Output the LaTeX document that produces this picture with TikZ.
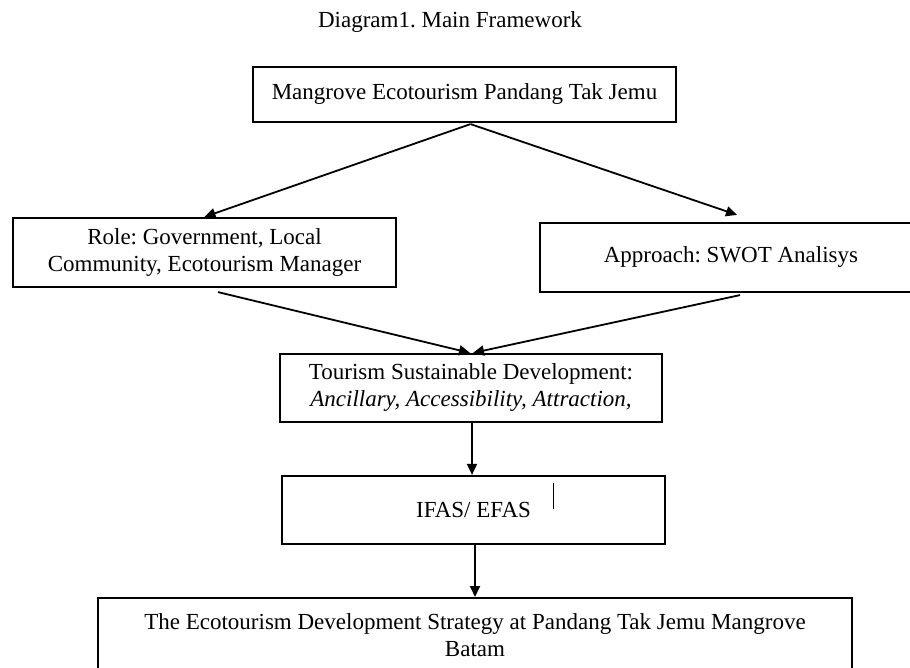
\documentclass[tikz,border=0pt]{standalone}
\usepackage{fontspec}
\setmainfont{Liberation Serif}
\usetikzlibrary{arrows.meta}
\frenchspacing
\begin{document}
\begin{tikzpicture}[x=1pt,y=-1pt,
 txt/.style={font=\fontsize{23}{27}\selectfont},
 box/.style={draw, line width=2.2pt, inner sep=0pt, align=center, txt},
 arr/.style={line width=1.8pt, -{Triangle[length=11pt,width=10pt]}},
]
\useasboundingbox (0,0) rectangle (910,668);
\clip (0,0) rectangle (910,668);
\node[txt] (title) at (450,22) {Diagram1. Main Framework};
\node[box, minimum width=423, minimum height=55] (top) at (464.5,94.5) {Mangrove Ecotourism Pandang Tak Jemu};
\node[box, minimum width=383, minimum height=69] (role) at (204.5,252.5) {Role: Government, Local\\Community, Ecotourism Manager};
\node[box, minimum width=382, minimum height=69] (approach) at (731,257.5) {Approach: SWOT Analisys};
\node[box, minimum width=382, minimum height=68] (tourism) at (471,388) {Tourism Sustainable Development:\\\textit{Ancillary, Accessibility, Attraction,}};
\node[box, minimum width=383, minimum height=68] (ifas) at (473.5,510) {IFAS/ EFAS};
\node[box, minimum width=754, minimum height=74, anchor=north] (bottom) at (475,597) {The Ecotourism Development Strategy at Pandang Tak Jemu Mangrove\\Batam};
\draw[line width=0.8pt] (553,483) -- (553,509);
\coordinate (topS) at ([xshift=6pt,yshift=-1pt]top.south);
\draw[arr] (topS) -- (role.north);
\draw[arr] (topS) -- ([xshift=6pt,yshift=7pt]approach.north);
\draw[arr] ([xshift=13.5pt,yshift=-4pt]role.south) -- ([xshift=-1pt]tourism.north);
\draw[arr] ([xshift=9pt,yshift=-2pt]approach.south) -- ([xshift=2pt]tourism.north);
\draw[arr] ([xshift=1pt]tourism.south) -- ([xshift=1pt]tourism.south |- ifas.north);
\draw[arr] ([xshift=1.5pt]ifas.south) -- ([xshift=1.5pt]ifas.south |- bottom.north);
\end{tikzpicture}
\end{document}
